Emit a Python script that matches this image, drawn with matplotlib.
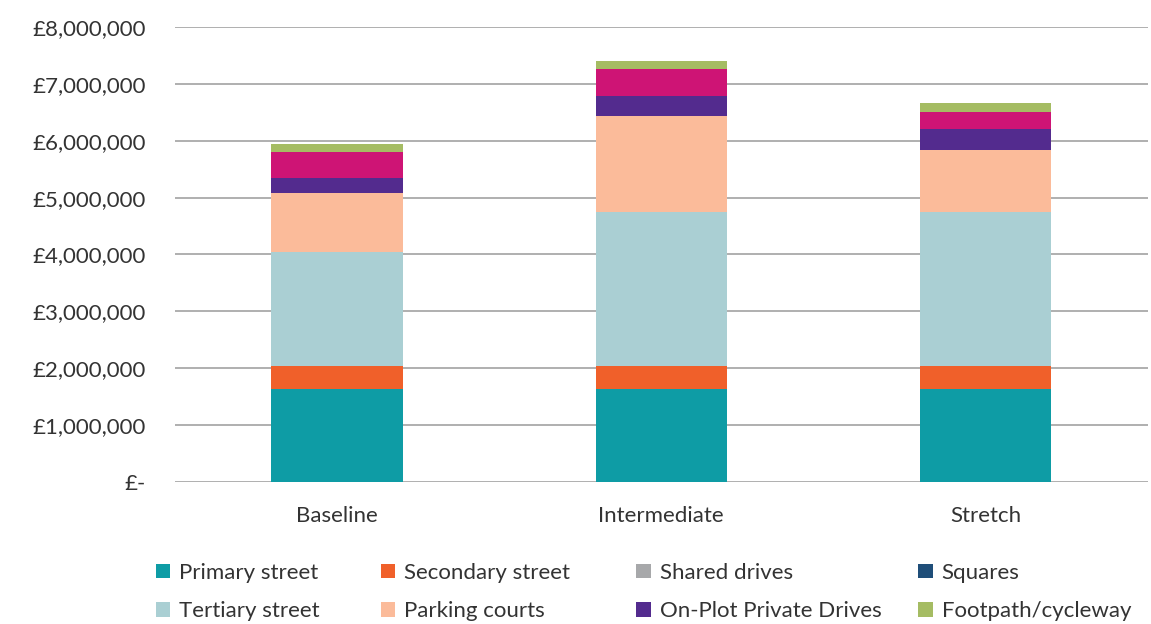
import matplotlib.pyplot as plt
import numpy as np
from matplotlib.ticker import FuncFormatter
from matplotlib.patches import Patch

plt.rcParams['font.family'] = ['Lato', 'DejaVu Sans']

scenarios = ["Baseline", "Intermediate", "Stretch"]

# costs in £ per road type
primary_street = [1640000, 1640000, 1640000]
secondary_street = [400000, 400000, 400000]
shared_drives = [0, 0, 0]
squares = [0, 0, 0]
tertiary_street = [2010000, 2710000, 2710000]
parking_courts = [1030000, 1690000, 1080000]
on_plot_drives = [260000, 350000, 380000]
unlabelled = [460000, 470000, 300000]   # magenta band, not shown in the legend
footpath = [150000, 140000, 150000]

series = [
    ("Primary street", primary_street, "#0E9CA5"),
    ("Secondary street", secondary_street, "#F0602A"),
    ("Shared drives", shared_drives, "#A7A8AA"),
    ("Squares", squares, "#1F4E79"),
    ("Tertiary street", tertiary_street, "#AACFD3"),
    ("Parking courts", parking_courts, "#FBBB9A"),
    ("On-Plot Private Drives", on_plot_drives, "#532B8E"),
    ("_magenta", unlabelled, "#CE1475"),
    ("Footpath/cycleway", footpath, "#A5BC63"),
]

fig = plt.figure(figsize=(11.51, 6.24), dpi=100)
ax = fig.add_axes([0.152, 0.2276, 0.845, 0.7291])

x = np.arange(len(scenarios))
bottom = np.zeros(len(scenarios))
for name, vals, col in series:
    vals = np.array(vals, dtype=float)
    ax.bar(x, vals, bottom=bottom, width=0.405, color=col, zorder=3)
    bottom += vals

ax.set_xlim(-0.5, 2.5)
ax.set_ylim(0, 8000000)
ax.set_yticks(np.arange(0, 8000001, 1000000))
ax.yaxis.set_major_formatter(FuncFormatter(lambda v, p: "£-" if v == 0 else "£{:,.0f}".format(v)))
ax.set_xticks(x)
ax.set_xticklabels(scenarios)
ax.tick_params(axis='both', length=0, labelsize=16, colors="#333333")
ax.tick_params(axis='y', pad=21)
ax.tick_params(axis='x', pad=17)
ax.grid(axis='y', color="#9a9a9a", linewidth=1.1, zorder=0)
for s in ax.spines.values():
    s.set_visible(False)

# legend laid out in four fixed columns like the original
legend_cols = [
    [series[0], series[4]],
    [series[1], series[5]],
    [series[2], series[6]],
    [series[3], series[8]],
]
col_x = [0.1277, 0.323, 0.545, 0.790]
for cx, entries in zip(col_x, legend_cols):
    handles = [Patch(facecolor=c, label=n) for n, v, c in entries]
    fig.legend(handles=handles, loc="upper left", bbox_to_anchor=(cx, 0.1122),
               frameon=False, fontsize=16, handlelength=0.65, handleheight=0.65,
               handletextpad=0.4, labelspacing=0.82, borderaxespad=0,
               borderpad=0.4, labelcolor="#333333")

fig.savefig("out.png", dpi=100)
